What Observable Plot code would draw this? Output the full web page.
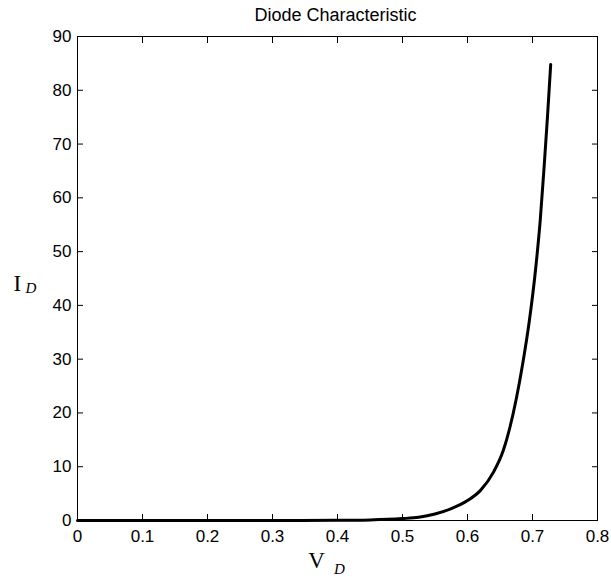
<!DOCTYPE html>
<html>
<head>
<meta charset="utf-8">
<script src="https://cdn.jsdelivr.net/npm/d3@7"></script>
<script src="https://cdn.jsdelivr.net/npm/@observablehq/plot@0.6"></script>
<style>
  html, body { margin: 0; padding: 0; background: #fff; }
</style>
</head>
<body>
<div id="chart"></div>
<script>
const title = "Diode Characteristic";
const xTicks = [0, 0.1, 0.2, 0.3, 0.4, 0.5, 0.6, 0.7, 0.8];
const yTicks = [0, 10, 20, 30, 40, 50, 60, 70, 80, 90];
const voltage = [0, 0.1, 0.2, 0.3, 0.4, 0.45, 0.5, 0.525, 0.55, 0.575, 0.6, 0.62, 0.64, 0.655, 0.665, 0.675, 0.685, 0.695, 0.705, 0.712, 0.718, 0.723, 0.728];
const current = [0, 0, 0, 0, 0.03, 0.1, 0.35, 0.6, 1.2, 2.2, 3.7, 5.6, 9, 13, 17.2, 22.6, 29.2, 37, 47, 56, 66, 75, 84.8];

const data = voltage.map((v, i) => ({V: v, I: current[i]}));
const sans = "'Liberation Sans', Arial, sans-serif";
const serif = "'Liberation Serif', 'Times New Roman', serif";

const chart = Plot.plot({
  width: 611,
  height: 577,
  marginLeft: 77,
  marginRight: 14,
  marginTop: 36,
  marginBottom: 57,
  style: {fontFamily: sans, fontSize: "17px", background: "#fff", color: "#000"},
  x: {domain: [0, 0.8], label: null},
  y: {domain: [0, 90], label: null},
  marks: [
    Plot.frame({stroke: "#000", strokeWidth: 1}),
    // inward ticks on all four sides
    Plot.axisX(xTicks, {anchor: "bottom", tickSize: 6, dy: -6, text: null, stroke: "#000"}),
    Plot.axisX(xTicks, {anchor: "top", tickSize: 6, dy: 6, text: null, stroke: "#000"}),
    Plot.axisY(yTicks, {anchor: "left", tickSize: 6, dx: 6, text: null, stroke: "#000"}),
    Plot.axisY(yTicks, {anchor: "right", tickSize: 6, dx: -6, text: null, stroke: "#000"}),
    // tick labels
    Plot.axisX(xTicks, {anchor: "bottom", tickSize: 0, tickPadding: 9, tickFormat: d => String(d), fill: "#000", fontSize: 17}),
    Plot.axisY(yTicks, {anchor: "left", tickSize: 0, tickPadding: 6, tickFormat: d => String(d), fill: "#000", fontSize: 17}),
    // curve
    Plot.line(data, {x: "V", y: "I", stroke: "#000", strokeWidth: 3, curve: "monotone-x"}),
    // title
    Plot.text([title], {frameAnchor: "top", dx: -2, dy: -21, lineAnchor: "middle", fontSize: 18, fill: "#000", fontFamily: sans}),
    // x label V_D
    Plot.text(["V"], {frameAnchor: "bottom", dx: -21, dy: 40, lineAnchor: "middle", fontSize: 23, fill: "#000", fontFamily: serif}),
    Plot.text(["D"], {frameAnchor: "bottom", dx: 2, dy: 49, lineAnchor: "middle", fontSize: 15, fontStyle: "italic", fill: "#000", fontFamily: serif}),
    // y label I_D
    Plot.text(["I"], {frameAnchor: "left", dx: -64, dy: 5, lineAnchor: "middle", fontSize: 23, fill: "#000", fontFamily: serif}),
    Plot.text(["D"], {frameAnchor: "left", dx: -52, dy: 10, lineAnchor: "middle", fontSize: 15, fontStyle: "italic", fill: "#000", fontFamily: serif})
  ]
});
document.getElementById("chart").appendChild(chart);
</script>
</body>
</html>
